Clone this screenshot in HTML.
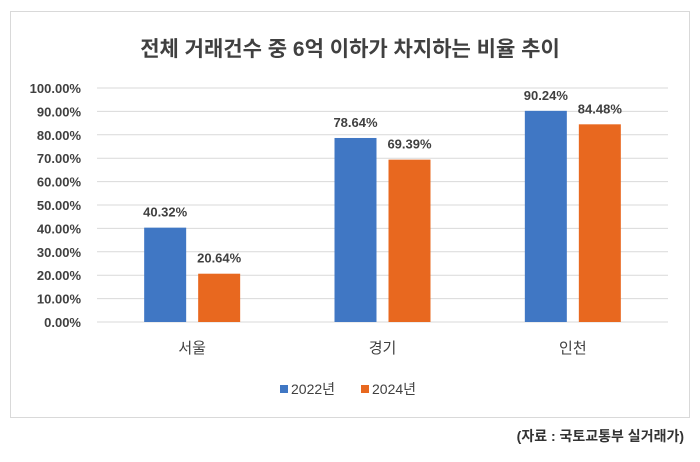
<!DOCTYPE html>
<html><head><meta charset="utf-8"><style>
body{margin:0;background:#fff;width:700px;height:457px;overflow:hidden;font-family:"Liberation Sans","Noto Sans CJK KR",sans-serif;}
</style></head><body>
<svg width="700" height="457" xmlns="http://www.w3.org/2000/svg" font-family="Liberation Sans, Noto Sans CJK KR, sans-serif">
<rect x="10.5" y="11.5" width="679" height="406" fill="#fff" stroke="#d9d9d9"/>
<text x="350" y="56" text-anchor="middle" font-size="21" font-weight="bold" fill="#404040">전체 거래건수 중 6억 이하가 차지하는 비율 추이</text>
<g id="grid"></g><g id="bars"></g>
<g>
<rect x="280" y="385" width="8" height="8" fill="#4077c4"/>
<text x="291" y="394" font-size="14" fill="#404040">2022년</text>
<rect x="361" y="385" width="8" height="8" fill="#e8681f"/>
<text x="372" y="394" font-size="14" fill="#404040">2024년</text>
</g>
<text x="684" y="441" text-anchor="end" font-size="14" font-weight="bold" fill="#333">(자료 : 국토교통부 실거래가)</text>
</svg>
<script>
const categories=["서울","경기","인천"];
const series2022=[40.32,78.64,90.24];
const series2024=[20.64,69.39,84.48];
const yTicks=[0,10,20,30,40,50,60,70,80,90,100];
const NS="http://www.w3.org/2000/svg";
const x0=97,x1=668,yTop=88,yBot=322;
const y=v=>yBot-(v/100)*(yBot-yTop);
const gw=(x1-x0)/categories.length;
const cx=i=>x0+gw*(i+0.5);
function mk(t,a,p){const e=document.createElementNS(NS,t);for(const k in a)e.setAttribute(k,a[k]);p.appendChild(e);return e;}
const grid=document.getElementById('grid'),bars=document.getElementById('bars');
yTicks.forEach(v=>{
 const l=mk('line',{x1:x0,x2:x1,y1:y(v),y2:y(v),stroke:'#d9d9d9','stroke-width':1},grid);
 
 
 const t=mk('text',{x:81,y:y(v)+5,'text-anchor':'end','font-size':13,'font-weight':'bold',fill:'#404040'},grid);
 t.textContent=v.toFixed(2)+'%';
 
 
});
const bw=42;
categories.forEach((c,i)=>{
 [[series2022,-27,'#4077c4','2022'],[series2024,27,'#e8681f','2024']].forEach(([s,off,col,yr])=>{
  const bx=cx(i)+off-bw/2;
  const r=mk('rect',{x:bx,y:y(s[i]),width:bw,height:yBot-y(s[i]),fill:col},bars);
  
  
  const t=mk('text',{x:cx(i)+off,y:y(s[i])-11,'text-anchor':'middle','font-size':13,'font-weight':'bold',fill:'#404040'},bars);
  t.textContent=s[i].toFixed(2)+'%';
  
  
 });
 const t=mk('text',{x:cx(i),y:353,'text-anchor':'middle','font-size':15,fill:'#404040'},bars);
 t.textContent=c;
 
 
});
</script>
</body></html>
